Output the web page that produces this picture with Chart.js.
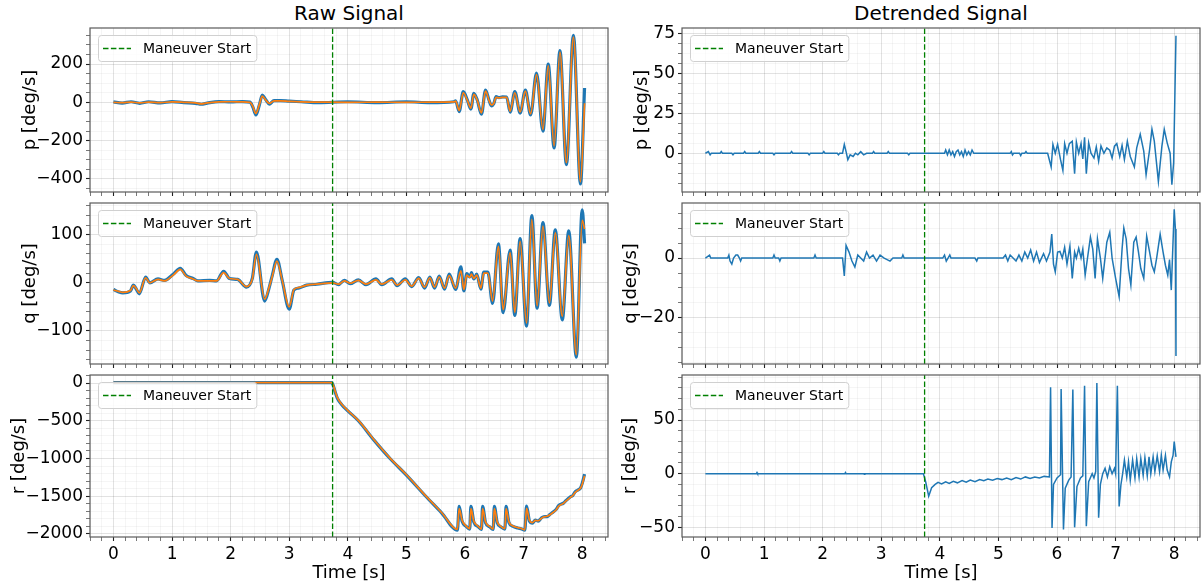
<!DOCTYPE html>
<html>
<head>
<meta charset="utf-8">
<title>Raw vs detrended body rates</title>
<script src="https://cdn.jsdelivr.net/npm/chart.js@4.4.1/dist/chart.umd.min.js"></script>
<style>
  html, body { margin: 0; background: #fff; }
  #page { position: relative; width: 1203px; height: 587px; overflow: hidden; font-family: "DejaVu Sans", sans-serif; }
  #page canvas { position: absolute; left: 0; top: 0; }
  .col-title { position: absolute; top: 3px; font-size: 20px; line-height: 20px; color: #000; transform: translateX(-50%); white-space: nowrap; }
</style>
</head>
<body>
<div id="page">
  <div class="col-title" style="left:349px">Raw Signal</div>
  <div class="col-title" style="left:941px">Detrended Signal</div>
  <canvas id="pRawChart" width="1203" height="587"></canvas>
  <canvas id="qRawChart" width="1203" height="587"></canvas>
  <canvas id="rRawChart" width="1203" height="587"></canvas>
  <canvas id="pDetChart" width="1203" height="587"></canvas>
  <canvas id="qDetChart" width="1203" height="587"></canvas>
  <canvas id="rDetChart" width="1203" height="587"></canvas>
</div>
<script>
const maneuverStart = 3.74

// roll rate p, raw (measured) and smoothed
const pRawTime = [
  0, 0.15, 0.3, 0.45, 0.6, 0.8, 1.0, 1.2, 1.4, 1.5,
  1.6, 1.8, 2.0, 2.2, 2.33, 2.38, 2.43, 2.49, 2.54, 2.60,
  2.66, 2.74, 2.85, 3.0, 3.2, 3.5, 4.0, 4.5, 5.0, 5.4,
  5.81, 5.84, 5.90, 5.97, 6.04, 6.10, 6.15, 6.21, 6.28, 6.35,
  6.41, 6.45, 6.49, 6.53, 6.58, 6.64, 6.71, 6.77, 6.85, 6.94,
  7.03, 7.12, 7.22, 7.33, 7.42, 7.52, 7.62, 7.73, 7.85, 7.97,
  8.04
]
const pRaw = [
  2, -4, 3, -5, 3, -3, 4, -2, -5, -10,
  -4, 4, 2, 4, 1, -25, -66, -14, 38, 13,
  -9, 9, 9, 6, 3, -2, 3, -2, 3, -2,
  3, 8, -48, 56, 12, -35, 47, 11, -62, 64,
  11, -18, -8, 30, 25, 29, 28, -51, 56, -56,
  64, -66, 153, -150, 200, -238, 270, -325, 350, -426,
  75
]
const pSmooth = [
  0, -2, 1, -3, 1, -1, 2, 0, -3, -8,
  -3, 2, 3, 2, 0, -22, -58, -12, 32, 12,
  -6, 8, 8, 5, 2, 1, 0, 1, 0, 1,
  2, 6, -42, 50, 10, -30, 42, 10, -55, 58,
  10, -14, -6, 26, 23, 26, 26, -46, 50, -50,
  58, -60, 145, -142, 192, -228, 262, -315, 340, -415,
  -5
]

// pitch rate q, raw and smoothed
const qRawTime = [
  0, 0.09, 0.16, 0.29, 0.34, 0.39, 0.44, 0.55, 0.62, 0.76,
  0.87, 1.03, 1.14, 1.24, 1.36, 1.44, 1.64, 1.76, 1.88, 1.98,
  2.12, 2.27, 2.37, 2.44, 2.58, 2.66, 2.71, 2.79, 2.88, 3.0,
  3.08, 3.16, 3.30, 3.47, 3.74, 3.84, 3.94, 4.04, 4.18, 4.31,
  4.48, 4.58, 4.75, 4.84, 4.98, 5.09, 5.21, 5.31, 5.40, 5.48,
  5.56, 5.65, 5.73, 5.84, 5.93, 5.98, 6.03, 6.08, 6.11, 6.15,
  6.20, 6.27, 6.32, 6.39, 6.47, 6.57, 6.65, 6.77, 6.85, 6.94,
  7.05, 7.14, 7.23, 7.33, 7.44, 7.54, 7.66, 7.77, 7.90, 8.00,
  8.04
]
const qRaw = [
  -14, -19, -21, -17, -5, -13, -23, 12, 0, 8,
  5, 19, 30, 15, 9, 4, 5, 4, 24, 9,
  7, -9, 9, 64, -38, -9, 15, 49, 5, -55,
  -15, -11, -5, -3, 1, -4, 5, -2, 6, -4,
  8, -4, 8, -6, 8, -8, 11, -11, 12, -11,
  14, -13, 18, -14, 33, -17, 19, 12, 21, 8,
  18, -13, 22, 22, -43, 81, -62, 68, -68, 92,
  -90, 140, -53, 125, -47, 110, -77, 108, -155, 152,
  82
]
const qSmooth = [
  -15, -18, -20, -16, -6, -12, -21, 10, 0, 7,
  4, 17, 28, 14, 8, 4, 4, 4, 21, 9,
  7, -8, 8, 59, -34, -8, 13, 45, 5, -50,
  -14, -10, -5, -3, 0, -3, 4, -1, 5, -3,
  6, -3, 6, -5, 6, -7, 9, -9, 10, -9,
  12, -11, 15, -11, 25, -14, 16, 11, 18, 9,
  16, -11, 20, 20, -38, 76, -56, 63, -62, 86,
  -84, 132, -48, 118, -42, 104, -70, 98, -150, 130,
  112
]

// yaw rate r, raw and smoothed
const rRawTime = [
  0, 1.0, 2.0, 3.0, 3.72, 3.75, 3.78, 3.82, 3.9, 4.0,
  4.18, 4.45, 4.72, 5.0, 5.33, 5.6, 5.87, 5.90, 5.95, 6.02,
  6.08, 6.10, 6.15, 6.22, 6.28, 6.30, 6.35, 6.42, 6.48, 6.50,
  6.55, 6.62, 6.68, 6.70, 6.75, 6.82, 6.90, 6.97, 7.02, 7.05,
  7.10, 7.15, 7.20, 7.25, 7.30, 7.34, 7.40, 7.45, 7.51, 7.55,
  7.60, 7.68, 7.72, 7.80, 7.84, 7.88, 7.92, 7.97, 8.00, 8.04
]
const rRaw = [
  5, 5, 5, 5, 5, -30, -110, -200, -290, -370,
  -500, -760, -1000, -1220, -1500, -1720, -1950, -1635, -1830, -1900,
  -1935, -1635, -1840, -1900, -1940, -1635, -1850, -1905, -1940, -1635,
  -1850, -1910, -1935, -1635, -1850, -1900, -1920, -1935, -1950, -1630,
  -1830, -1858, -1816, -1830, -1790, -1772, -1770, -1740, -1706, -1680,
  -1620, -1591, -1560, -1507, -1490, -1441, -1420, -1392, -1330, -1207
]
const rSmooth = [
  5, 5, 5, 5, 5, -25, -100, -190, -285, -365,
  -495, -755, -995, -1215, -1495, -1715, -1940, -1665, -1820, -1895,
  -1930, -1665, -1830, -1895, -1935, -1665, -1840, -1900, -1935, -1665,
  -1840, -1905, -1930, -1665, -1840, -1895, -1915, -1930, -1945, -1660,
  -1820, -1850, -1820, -1825, -1795, -1775, -1765, -1745, -1710, -1685,
  -1630, -1595, -1565, -1515, -1490, -1450, -1425, -1395, -1340, -1230
]

// detrended p
const pDetTime = [
  0, 0.05, 0.08, 0.1, 0.25, 0.27, 0.29, 0.45, 0.47, 0.49,
  0.65, 0.67, 0.69, 0.9, 0.92, 0.94, 1.15, 1.17, 1.19, 1.45,
  1.47, 1.49, 1.75, 1.77, 1.79, 2.0, 2.02, 2.04, 2.25, 2.27,
  2.29, 2.34, 2.37, 2.40, 2.43, 2.47, 2.52, 2.56, 2.60, 2.65,
  2.70, 2.75, 2.85, 2.87, 2.89, 3.1, 3.12, 3.14, 3.45, 3.47,
  3.49, 4.08, 4.10, 4.13, 4.16, 4.19, 4.22, 4.25, 4.28, 4.31,
  4.34, 4.37, 4.40, 4.43, 4.46, 4.49, 4.52, 4.55, 4.58, 5.2,
  5.22, 5.24, 5.26, 5.36, 5.38, 5.40, 5.45, 5.47, 5.49, 5.84,
  5.90, 5.93, 5.97, 6.01, 6.06, 6.10, 6.13, 6.17, 6.21, 6.26,
  6.30, 6.33, 6.37, 6.41, 6.44, 6.47, 6.50, 6.54, 6.58, 6.63,
  6.67, 6.71, 6.75, 6.80, 6.85, 6.90, 6.94, 6.98, 7.02, 7.07,
  7.11, 7.15, 7.20, 7.25, 7.32, 7.36, 7.42, 7.48, 7.52, 7.58,
  7.62, 7.66, 7.73, 7.79, 7.83, 7.88, 7.93, 7.96, 7.99, 8.03
]
const pDet = [
  0, 1, -1, 0, 0, 1, 0, 0, -1, 0,
  0, 1, 0, 0, 1, 0, 0, -1, 0, 0,
  1, 0, 0, -1, 0, 0, 1, 0, 0, -1,
  0, 0, 5.5, 1, -4, -1, -2, 0, -1, 1,
  -1, 0, 0, 1, 0, 0, 1, 0, 0, -1,
  0, 0, 2, -1, 2, -1, 1, -2, 1, 2,
  -1, 1, -2, 2, -1, 1, -1, 2, 0, 0,
  1, -1, 0, 0, -1.5, 0, 0, 1, 0, 0,
  -8.6, 5.5, 0, 5.5, -4, -10.7, 6, 0, 6, 7.5,
  -12.8, 7, 0, 6, -3.6, 10, -12.8, 6.5, 0, -3,
  4, -5, 4.6, 0, 3.4, 1.9, -3, 4.4, 6, -2,
  5, -4, 7.5, -2, -8.6, 3.4, 11.8, 1.3, -13.4, 2.3,
  15, 7.6, -17.6, 4.4, 15, 6.5, 0, -19.7, -6, 73.3
]

// detrended q
const qDetTime = [
  0, 0.07, 0.09, 0.38, 0.40, 0.42, 0.45, 0.48, 0.52, 0.55,
  0.58, 0.60, 0.62, 1.15, 1.17, 1.19, 1.25, 1.27, 1.29, 1.85,
  1.87, 1.89, 2.34, 2.37, 2.40, 2.45, 2.50, 2.55, 2.60, 2.65,
  2.70, 2.75, 2.80, 2.86, 2.92, 2.98, 3.05, 3.15, 3.20, 3.35,
  3.37, 3.39, 4.05, 4.08, 4.11, 4.14, 4.17, 4.19, 4.60, 4.63,
  4.65, 5.08, 5.12, 5.16, 5.20, 5.25, 5.30, 5.35, 5.40, 5.45,
  5.50, 5.55, 5.60, 5.65, 5.70, 5.77, 5.82, 5.88, 5.91, 5.94,
  5.97, 6.01, 6.05, 6.09, 6.13, 6.17, 6.22, 6.26, 6.30, 6.33,
  6.37, 6.41, 6.44, 6.48, 6.52, 6.57, 6.61, 6.65, 6.69, 6.74,
  6.78, 6.85, 6.90, 6.94, 7.00, 7.06, 7.11, 7.14, 7.18, 7.22,
  7.26, 7.31, 7.35, 7.39, 7.43, 7.48, 7.53, 7.58, 7.62, 7.66,
  7.70, 7.76, 7.81, 7.85, 7.89, 7.92, 7.95, 8.00, 8.02, 8.03
]
const qDet = [
  0, 1, 0, 0, 1, -1, -2, 0, 1, 1,
  0, -1, 0, 0, 1, 0, 0, -1, 0, 0,
  1, 0, 0, -6, 4.2, 2, -1, -3, 1, 0,
  -1, 2, 0, 1, -1, 1, 0, -1, 0, 0,
  1, 0, 0, 1, -1, 0, 1, 0, 0, -1,
  0, 0, 1, -1, 1, 0, -1, 1, -1, 2,
  0, 2.7, -1, 2, -1.5, 1.5, -1, 2, 8, -2,
  -4.6, 2, 2.2, 0, 3.6, -2, 4, -6.8, 2, 0,
  3.3, 0, 3, -5.7, 0, 7, 3, -6.8, 6.4, 0,
  -6.8, 5.3, 8.6, 0, -6.8, -12.9, 3, 10, 6.4, -3.5,
  -9, 5.3, 7, 2, -3.5, -6.8, 7.3, 2, -2.4, -4.6,
  0, 8, 2, -2.4, -5.7, -0.5, -10.7, 16.3, 9.7, -32.7
]

// detrended r
const rDetTime = [
  0, 0.87, 0.88, 0.89, 2.38, 2.39, 2.40, 2.70, 2.71, 2.72,
  3.72, 3.76, 3.81, 3.86, 3.92, 3.97, 4.03, 4.10, 4.16, 4.23,
  4.30, 4.38, 4.45, 4.52, 4.60, 4.68, 4.75, 4.82, 4.90, 4.98,
  5.06, 5.14, 5.22, 5.30, 5.38, 5.46, 5.54, 5.62, 5.70, 5.78,
  5.87, 5.89, 5.915, 5.94, 6.00, 6.06, 6.07, 6.11, 6.14, 6.20,
  6.24, 6.27, 6.30, 6.34, 6.40, 6.44, 6.47, 6.50, 6.54, 6.60,
  6.63, 6.66, 6.68, 6.71, 6.74, 6.78, 6.82, 6.86, 6.90, 6.94,
  6.98, 7.00, 7.03, 7.06, 7.09, 7.12, 7.15, 7.19, 7.22, 7.25,
  7.29, 7.33, 7.36, 7.40, 7.43, 7.47, 7.50, 7.54, 7.57, 7.60,
  7.64, 7.67, 7.71, 7.75, 7.78, 7.81, 7.85, 7.88, 7.92, 7.95,
  7.98, 8.00, 8.03
]
const rDet = [
  0, 0, 1, 0, 0, 1, 0, 0, -0.5, 0,
  0, -8, -21, -13, -10, -8, -9.5, -7.5, -9, -7,
  -8.5, -6.5, -8, -6, -7.5, -5.5, -6.5, -5, -6, -4.5,
  -5.5, -4, -5.5, -3.5, -5, -3, -4.5, -3, -4, -2.5,
  -3, 80.5, -50.6, -10, -4, -1, 79, -52, -13.6, -6,
  -3, 78.4, -50, -12, -4, -2, 82, -49, -7.4, 0,
  -4, 2, 84.6, -41, -10, 0, 5, -3, 6.5, 0,
  5, 0, 82, -30.6, -10.5, 0, 12.7, -3, 11, -6,
  12.7, -4, 14, -3, 14, -1.5, 15, -2, 15.7, 0,
  15.7, 2, 16.7, 2, 17.3, 3.4, 17, 3.4, -3, 11,
  17, 30, 15.7
]

const FONT = '"DejaVu Sans", sans-serif'
const BLUE = '#1f77b4'
const ORANGE = '#ff7f0e'
const GREEN = '#008000'
const PAGE_W = 1203
const PAGE_H = 587

const columns = { raw: { l: 90, r: 608 }, det: { l: 682, r: 1200 } }
const rows = [{ t: 28, b: 192 }, { t: 203, b: 364 }, { t: 375, b: 537 }]

const points = (t, v) => t.map((x, i) => ({ x, y: v[i] }))
const minus = v => String(Math.round(v)).replace('-', '\u2212')

// major + minor ticks like a matplotlib axis with AutoMinorLocator
function stepTicks(major, minor) {
  return scale => {
    const ticks = []
    const first = Math.ceil(scale.min / minor - 1e-6)
    const last = Math.floor(scale.max / minor + 1e-6)
    for (let i = first; i <= last; i++) {
      const value = Math.round(i * minor * 1e6) / 1e6
      const k = value / major
      ticks.push({ value, isMajor: Math.abs(k - Math.round(k)) < 1e-6 })
    }
    scale.ticks = ticks
  }
}

const isMajor = c => !!(c.tick && c.tick.isMajor)
const gridOpts = {
  color: c => isMajor(c) ? 'rgba(0,0,0,0.13)' : 'rgba(0,0,0,0.06)',
  lineWidth: c => isMajor(c) ? 0.9 : 0.7,
  tickColor: c => isMajor(c) ? '#222' : '#555',
  tickWidth: c => isMajor(c) ? 1.1 : 0.8,
  tickLength: 4
}

// closes the box on all four sides
const frame = {
  id: 'frame',
  afterDatasetsDraw(chart) {
    const { ctx, chartArea: a } = chart
    ctx.save()
    ctx.strokeStyle = '#5a5a5a'
    ctx.lineWidth = 1.2
    ctx.strokeRect(a.left, a.top, a.right - a.left, a.bottom - a.top)
    ctx.restore()
  }
}

// "Maneuver Start" legend in the upper-left corner
const legendBox = {
  id: 'legendBox',
  afterDraw(chart) {
    const { ctx, chartArea: a } = chart
    const label = 'Maneuver Start'
    const x = a.left + 8
    const y = a.top + 7
    ctx.save()
    ctx.font = '14px ' + FONT
    const w = ctx.measureText(label).width + 50
    const h = 26
    ctx.beginPath()
    ctx.roundRect(x + 0.5, y + 0.5, w, h, 3)
    ctx.fillStyle = 'rgba(255,255,255,0.8)'
    ctx.fill()
    ctx.strokeStyle = '#d0d0d0'
    ctx.lineWidth = 1
    ctx.stroke()
    ctx.beginPath()
    ctx.setLineDash([5.5, 2.4])
    ctx.strokeStyle = GREEN
    ctx.lineWidth = 1.4
    ctx.moveTo(x + 5, y + 13.5)
    ctx.lineTo(x + 33, y + 13.5)
    ctx.stroke()
    ctx.setLineDash([])
    ctx.fillStyle = '#000'
    ctx.textBaseline = 'middle'
    ctx.fillText(label, x + 45, y + 14)
    ctx.restore()
  }
}

function panel(id, o) {
  const col = columns[o.col]
  const row = rows[o.row]
  const bottomRow = o.row === 2
  const xAxisH = bottomRow ? 50 : 6
  const padLeft = o.yTitleX - 10.8
  const datasets = [{
    data: [{ x: maneuverStart, y: o.yMin }, { x: maneuverStart, y: o.yMax }],
    borderColor: GREEN,
    borderWidth: 1.3,
    borderDash: [5.5, 2.4],
    order: 0
  }].concat(o.lines)

  new Chart(document.getElementById(id), {
    type: 'line',
    data: { datasets },
    options: {
      responsive: false,
      animation: false,
      devicePixelRatio: 1,
      events: [],
      layout: {
        padding: { left: padLeft, top: row.t, right: PAGE_W - col.r, bottom: PAGE_H - row.b - xAxisH }
      },
      elements: { point: { radius: 0 }, line: { tension: 0 } },
      plugins: { legend: { display: false }, tooltip: { enabled: false } },
      scales: {
        x: {
          type: 'linear',
          min: -0.4,
          max: 8.44,
          afterBuildTicks: stepTicks(1, 0.2),
          afterFit: s => { s.height = xAxisH },
          border: { display: false },
          grid: gridOpts,
          ticks: {
            autoSkip: false,
            maxRotation: 0,
            minRotation: 0,
            padding: 3,
            color: '#000',
            font: { family: FONT, size: 17 },
            callback: (v, i, t) => bottomRow && t[i].isMajor ? minus(v) : ''
          },
          title: {
            display: bottomRow,
            text: 'Time [s]',
            color: '#000',
            font: { family: FONT, size: 18 },
            padding: { top: 0, bottom: 3 }
          }
        },
        y: {
          type: 'linear',
          min: o.yMin,
          max: o.yMax,
          afterBuildTicks: stepTicks(o.yMajor, o.yMinor),
          afterFit: s => { s.width = col.l - padLeft },
          border: { display: false },
          grid: gridOpts,
          ticks: {
            autoSkip: false,
            padding: 3,
            color: '#000',
            font: { family: FONT, size: 17 },
            callback: (v, i, t) => t[i].isMajor ? minus(v) : ''
          },
          title: {
            display: true,
            text: o.yTitle,
            color: '#000',
            font: { family: FONT, size: 18 },
            padding: 0
          }
        }
      }
    },
    plugins: [frame, legendBox]
  })
}

function rawLines(t, raw, smooth) {
  return [
    { data: points(t, smooth), borderColor: ORANGE, borderWidth: 1.7, cubicInterpolationMode: 'monotone', order: 1 },
    { data: points(t, raw), borderColor: BLUE, borderWidth: 3.2, cubicInterpolationMode: 'monotone', order: 2 }
  ]
}

function detLine(t, v) {
  return [{ data: points(t, v), borderColor: BLUE, borderWidth: 1.5, order: 1 }]
}

panel('pRawChart', { col: 'raw', row: 0, yMin: -468, yMax: 388, yMajor: 200, yMinor: 50, yTitle: 'p [deg/s]', yTitleX: 30, lines: rawLines(pRawTime, pRaw, pSmooth) })
panel('qRawChart', { col: 'raw', row: 1, yMin: -169, yMax: 166, yMajor: 100, yMinor: 20, yTitle: 'q [deg/s]', yTitleX: 30, lines: rawLines(qRawTime, qRaw, qSmooth) })
panel('rRawChart', { col: 'raw', row: 2, yMin: -2040, yMax: 106, yMajor: 500, yMinor: 100, yTitle: 'r [deg/s]', yTitleX: 19, lines: rawLines(rRawTime, rRaw, rSmooth) })
panel('pDetChart', { col: 'det', row: 0, yMin: -24.2, yMax: 78.2, yMajor: 25, yMinor: 6.25, yTitle: 'p [deg/s]', yTitleX: 642, lines: detLine(pDetTime, pDet) })
panel('qDetChart', { col: 'det', row: 1, yMin: -35.4, yMax: 18.4, yMajor: 20, yMinor: 5, yTitle: 'q [deg/s]', yTitleX: 631, lines: detLine(qDetTime, qDet) })
panel('rDetChart', { col: 'det', row: 2, yMin: -59, yMax: 92, yMajor: 50, yMinor: 10, yTitle: 'r [deg/s]', yTitleX: 630, lines: detLine(rDetTime, rDet) })
</script>
</body>
</html>
